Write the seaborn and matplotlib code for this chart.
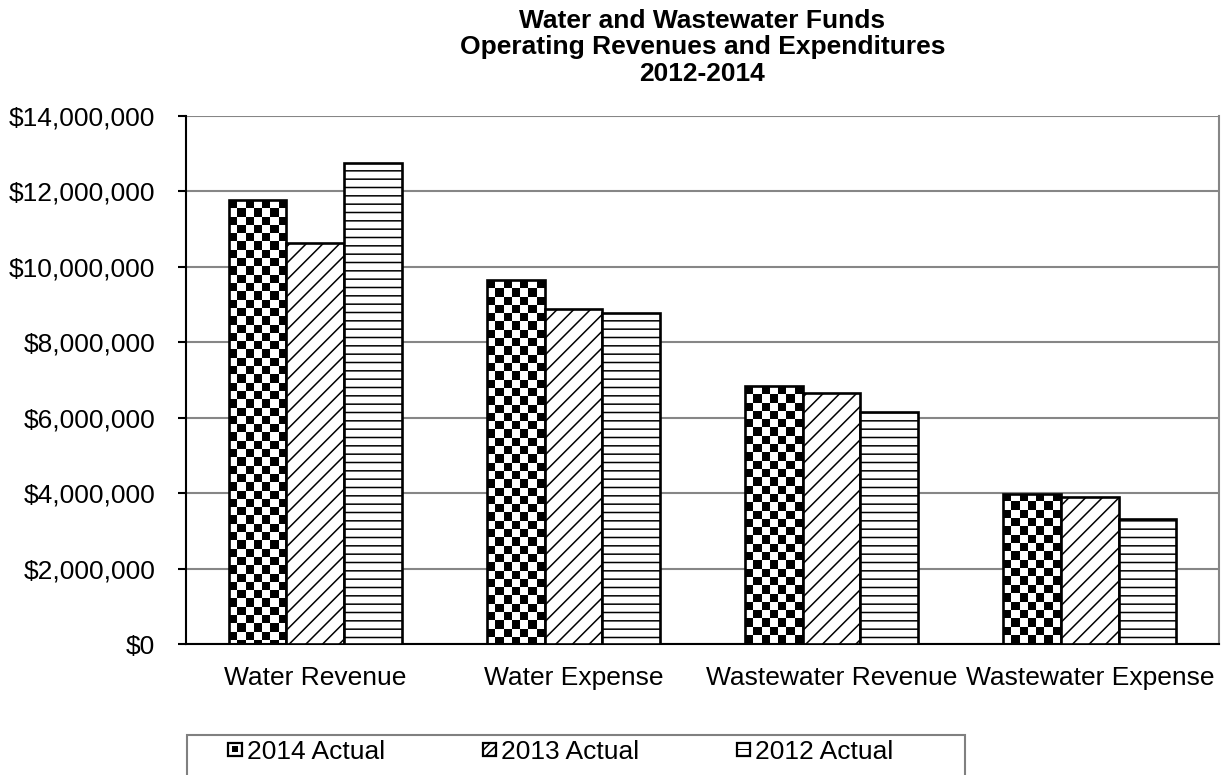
import numpy as np
import pandas as pd
import seaborn as sns
import matplotlib
matplotlib.use("Agg")
import matplotlib.pyplot as plt
from matplotlib.patches import Rectangle
from matplotlib.legend_handler import HandlerBase
from matplotlib.ticker import FuncFormatter, MultipleLocator

# ---- data ----
categories = ["Water Revenue", "Water Expense", "Wastewater Revenue", "Wastewater Expense"]
series = ["2014 Actual", "2013 Actual", "2012 Actual"]
actual_2014 = [11_770_000, 9_650_000, 6_840_000, 3_980_000]
actual_2013 = [10_630_000, 8_880_000, 6_660_000, 3_900_000]
actual_2012 = [12_750_000, 8_770_000, 6_150_000, 3_310_000]
title_lines = ["Water and Wastewater Funds",
               "Operating Revenues and Expenditures",
               "2012-2014"]

df = pd.DataFrame({
    "category": categories * 3,
    "series": [series[0]] * 4 + [series[1]] * 4 + [series[2]] * 4,
    "value": actual_2014 + actual_2013 + actual_2012,
})

sns.set_style("white")
plt.rcParams["font.family"] = ["Liberation Sans", "DejaVu Sans"]
plt.rcParams["text.color"] = "black"
plt.rcParams["xtick.color"] = "black"
plt.rcParams["ytick.color"] = "black"
plt.rcParams["hatch.linewidth"] = 1.1
plt.rcParams["hatch.color"] = "black"

W, H, DPI = 1225, 775, 100
fig = plt.figure(figsize=(W / DPI, H / DPI), dpi=DPI)
ax_left, ax_right, ax_top, ax_bottom = 186, 1219, 116, 644
ax = fig.add_axes([ax_left / W, 1 - ax_bottom / H,
                   (ax_right - ax_left) / W, (ax_bottom - ax_top) / H])

sns.barplot(data=df, x="category", y="value", hue="series",
            hue_order=series, order=categories,
            palette=["white"] * 3, saturation=1, width=0.67, gap=0,
            edgecolor="black", linewidth=1.9, legend=False, ax=ax, zorder=3)

YMAX = 14_000_000

# patterns: checkerboard for 2014, diagonal for 2013, horizontal lines for 2012
for bar in ax.containers[1]:
    bar.set_hatch("//")
for bar in ax.containers[2]:
    bar.set_hatch("--")

px_per_unit_y = (ax_bottom - ax_top) / YMAX
cell_px = 8.3
for bar in ax.containers[0]:
    bar.set_facecolor("none")
    x0, w, h = bar.get_x(), bar.get_width(), bar.get_height()
    w_px = w * (ax_right - ax_left) / len(categories)
    nx = max(1, int(round(w_px / cell_px)))
    ny = max(1, int(round(h * px_per_unit_y / cell_px)) + 1)
    checker = (np.indices((ny, nx)).sum(axis=0) % 2).astype(float)
    im = ax.imshow(checker, cmap="gray", vmin=0, vmax=1, origin="upper",
                   extent=[x0, x0 + w, h - ny * cell_px / px_per_unit_y, h],
                   interpolation="nearest", aspect="auto", zorder=2.5)
    im.set_clip_path(bar)

ax.set_ylim(0, YMAX)
ax.set_xlim(-0.5, len(categories) - 0.5)

# axes styling
ax.yaxis.set_major_locator(MultipleLocator(2_000_000))
ax.yaxis.set_major_formatter(FuncFormatter(lambda v, p: f"${v:,.0f}"))
ax.grid(axis="y", color="#868686", linewidth=1.5, zorder=0)
ax.set_axisbelow(True)
for s in ["left", "bottom"]:
    ax.spines[s].set_color("black")
    ax.spines[s].set_linewidth(1.5)
ax.spines["top"].set_visible(False)
ax.spines["right"].set_color("#868686")
ax.spines["right"].set_linewidth(1.5)
ax.tick_params(axis="y", which="major", left=True, length=6, width=1.5,
               color="black", labelcolor="black", pad=16, labelsize=19,
               direction="out")
ax.tick_params(axis="x", length=0, pad=16, labelsize=19, labelcolor="black")
ax.set_xlabel("")
ax.set_ylabel("")

fig.text((ax_left + ax_right) / 2 / W, 1 - 9 / H, "\n".join(title_lines),
         ha="center", va="top", fontsize=19, fontweight="bold",
         linespacing=1.13, color="black")


# legend with small pattern swatches
class SwatchHandler(HandlerBase):
    def __init__(self, kind):
        super().__init__()
        self.kind = kind

    def create_artists(self, legend, orig_handle, xdescent, ydescent,
                       width, height, fontsize, trans):
        s = min(width, height)
        x0 = -xdescent + (width - s) / 2
        y0 = -ydescent + (height - s) / 2
        arts = [Rectangle((x0, y0), s, s, facecolor="white",
                          edgecolor="black", linewidth=1.6, transform=trans)]
        if self.kind == "checker":
            arts.append(Rectangle((x0 + s * 0.25, y0 + s * 0.3), s * 0.5, s * 0.45,
                                  facecolor="black", edgecolor="none",
                                  transform=trans))
        elif self.kind == "diag":
            arts.append(Rectangle((x0, y0), s, s, facecolor="none",
                                  edgecolor="black", linewidth=0, hatch="////",
                                  transform=trans))
        else:
            arts.append(Rectangle((x0, y0 + s * 0.45), s, s * 0.1,
                                  facecolor="black", edgecolor="none",
                                  transform=trans))
        return arts


handles = [Rectangle((0, 0), 1, 1) for _ in series]
kinds = ["checker", "diag", "lines"]
fig.legend(handles, series,
           handler_map={h: SwatchHandler(k) for h, k in zip(handles, kinds)},
           loc="center", bbox_to_anchor=(561 / W, 1 - 752 / H),
           ncol=3, frameon=False, fontsize=19, handlelength=0.5,
           handleheight=0.5, handletextpad=0.2, columnspacing=3.7,
           borderpad=0, labelcolor="black")
fig.add_artist(Rectangle((187 / W, -0.05), (965 - 187) / W, (1 - 735 / H) + 0.05,
                         transform=fig.transFigure, fill=False,
                         edgecolor="#808080", linewidth=1.5))

fig.savefig("out.png", dpi=DPI, facecolor="white")
